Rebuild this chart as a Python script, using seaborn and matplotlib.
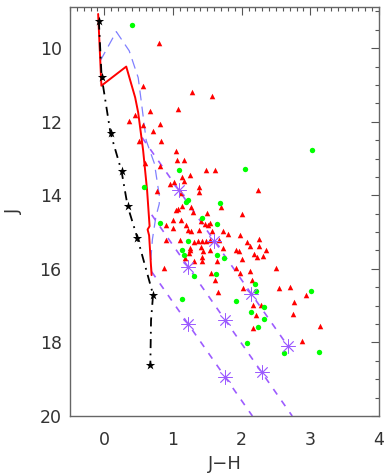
import numpy as np
import pandas as pd
import matplotlib
matplotlib.use("Agg")
import matplotlib.pyplot as plt
from matplotlib.ticker import MultipleLocator
import seaborn as sns

# ---------------- data ----------------
red_jh = [0.80, 0.565, 1.28, 1.565, 1.077, 0.659, 0.449, 0.352, 0.812, 0.565,
          0.714, 0.512, 0.826, 1.043, 1.051, 1.164, 0.594, 0.816, 1.478, 1.616,
          1.126, 1.242, 1.164, 0.952, 1.019, 1.381, 2.232, 0.768, 1.116, 1.381,
          1.068, 1.043, 1.126, 1.261, 1.290, 1.488, 1.706, 2.004, 1.541, 1.464,
          0.996, 1.116, 1.401, 0.899, 1.000, 1.188, 1.213, 1.261, 1.381, 1.512,
          1.575, 1.725, 1.807, 1.981, 0.894, 1.106, 1.309, 1.362, 1.420, 1.478,
          1.536, 1.671, 2.077, 2.246, 2.120, 2.246, 1.242, 1.251, 1.406, 1.435,
          1.541, 1.735, 1.920, 1.957, 2.348, 2.178, 2.228, 2.314, 2.010, 1.232,
          1.416, 1.178, 1.309, 1.416, 1.638, 0.874, 1.551, 1.609, 1.917, 1.971,
          2.116, 2.503, 2.025, 1.657, 2.145, 2.543, 2.700, 2.942, 2.758, 2.159,
          2.278, 2.213, 2.754, 3.138, 2.171, 2.881]
red_j = [9.87, 11.04, 11.18, 11.30, 11.65, 11.72, 11.81, 11.97, 12.05, 12.10,
         12.26, 12.53, 12.52, 12.80, 13.04, 13.03, 13.13, 13.19, 13.30, 13.30,
         13.51, 13.46, 13.60, 13.69, 13.64, 13.78, 13.85, 13.89, 13.94, 13.91,
         14.38, 14.41, 14.28, 14.32, 14.46, 14.48, 14.31, 14.52, 14.75, 14.77,
         14.68, 14.68, 14.70, 14.80, 14.90, 14.82, 14.95, 14.98, 14.95, 14.82,
         14.98, 14.97, 15.04, 15.09, 15.22, 15.22, 15.27, 15.25, 15.25, 15.25,
         15.22, 15.22, 15.27, 15.20, 15.38, 15.37, 15.42, 15.50, 15.41, 15.51,
         15.48, 15.42, 15.48, 15.52, 15.50, 15.60, 15.69, 15.64, 15.74, 15.57,
         15.68, 15.70, 15.79, 15.79, 15.79, 15.98, 16.11, 16.29, 15.98, 16.10,
         16.06, 15.97, 16.53, 16.62, 16.31, 16.53, 16.50, 16.72, 16.91, 16.99,
         16.99, 17.26, 17.22, 17.54, 17.62, 17.95]

green_jh = [0.41, 3.019, 2.048, 1.091, 0.580, 1.225, 1.196, 1.686, 1.428, 0.816,
            1.638, 1.213, 1.126, 1.167, 1.645, 1.746, 1.312, 1.623, 1.135, 1.923,
            2.188, 2.207, 3.012, 2.142, 2.323, 2.322, 2.243, 2.084, 2.613, 3.123]
green_j = [9.37, 12.76, 13.29, 13.30, 13.77, 14.13, 14.18, 14.22, 14.63, 14.74,
           14.78, 15.25, 15.50, 15.61, 15.62, 15.70, 16.19, 16.15, 16.83, 16.87,
           16.42, 16.61, 16.60, 17.17, 17.05, 17.35, 17.59, 18.01, 18.29, 18.27]

# main sequence (black dash-dot with stars)
ms_jh = [-0.08, -0.04, 0.09, 0.25, 0.34, 0.48, 0.71, 0.68, 0.67]
ms_j = [9.25, 10.77, 12.31, 13.34, 14.30, 15.15, 16.70, 17.40, 18.62]
ms_star_jh = [-0.08, -0.04, 0.09, 0.25, 0.34, 0.48, 0.71, 0.67]
ms_star_j = [9.25, 10.77, 12.31, 13.34, 14.30, 15.15, 16.70, 18.62]

# red isochrone
iso_jh = [-0.09, -0.043, 0.319, 0.449, 0.493, 0.565, 0.623, 0.659, 0.630, 0.652, 0.688]
iso_j = [9.07, 11.02, 10.50, 11.34, 11.75, 12.78, 13.87, 14.84, 14.93, 15.09, 16.17]

# blue dashed track
blue_jh = [-0.058, 0.174, 0.362, 0.493, 0.536, 0.61, 0.73, 0.80, 0.80, 0.75, 0.70, 0.68, 0.69]
blue_j = [10.34, 9.55, 10.07, 10.80, 11.42, 12.51, 13.14, 14.00, 14.23, 14.59, 15.20, 15.68, 16.13]

# reddening vectors (start, end) and Av markers
vecA_jh = [0.55, 2.673]
vecA_j = [12.43, 18.10]
vecA_star_jh = [1.083, 1.59, 2.138, 2.671]
vecA_star_j = [13.85, 15.24, 16.68, 18.10]
vecB_jh = [0.69, 2.736]
vecB_j = [14.53, 20.0]
vecB_star_jh = [1.222, 1.754, 2.290]
vecB_star_j = [15.95, 17.38, 18.81]
vecC_jh = [0.69, 2.156]
vecC_j = [16.08, 20.0]
vecC_star_jh = [1.222, 1.754]
vecC_star_j = [17.50, 18.93]

x_ticks = [0, 1, 2, 3, 4]
y_ticks = [10, 12, 14, 16, 18, 20]

# ---------------- plotting ----------------
sns.set_style("white")
plt.rcParams['font.family'] = ['DejaVu Sans']

fig = plt.figure(figsize=(3.88, 4.75), dpi=100)
ax = fig.add_axes([70 / 388, 59 / 475, 309 / 388, 409 / 475])

purple = "#9d5cff"
blue = "#8080ff"

# lines
sns.lineplot(x=blue_jh, y=blue_j, sort=False, estimator=None, ax=ax,
             color=blue, lw=0.9, linestyle=(0, (8, 5)), zorder=2)
for vx, vy in [(vecA_jh, vecA_j), (vecB_jh, vecB_j), (vecC_jh, vecC_j)]:
    sns.lineplot(x=vx, y=vy, sort=False, estimator=None, ax=ax,
                 color=purple, lw=1.2, linestyle=(0, (4, 4.5)), zorder=2)
sns.lineplot(x=iso_jh, y=iso_j, sort=False, estimator=None, ax=ax,
             color="red", lw=1.4, zorder=3)
sns.lineplot(x=ms_jh, y=ms_j, sort=False, estimator=None, ax=ax,
             color="black", lw=1.3, linestyle=(0, (5, 3, 1, 3)), zorder=3)

# points
sns.scatterplot(x=red_jh, y=red_j, ax=ax, marker="^", color="red", s=16,
                linewidth=0, zorder=4)
sns.scatterplot(x=green_jh, y=green_j, ax=ax, marker="o", color="#00ff00", s=15,
                linewidth=0, zorder=4)
sns.scatterplot(x=ms_star_jh, y=ms_star_j, ax=ax, marker="*", color="black", s=50,
                linewidth=0, zorder=5)
for sx, sy in [(vecA_star_jh, vecA_star_j), (vecB_star_jh, vecB_star_j),
               (vecC_star_jh, vecC_star_j)]:
    sns.scatterplot(x=sx, y=sy, ax=ax, marker=(8, 2, 0), color=purple,
                    edgecolor=purple, s=95, linewidth=0.6, zorder=5)

# axes
ax.set_xlim(-0.5, 4)
ax.set_ylim(20, 8.88)
ax.set_xticks(x_ticks)
ax.set_yticks(y_ticks)
ax.xaxis.set_minor_locator(MultipleLocator(0.1))
ax.yaxis.set_minor_locator(MultipleLocator(0.5))
ax.tick_params(which="both", direction="in", top=True, right=True,
               color="#555555", width=0.8)
ax.tick_params(which="major", length=6)
ax.tick_params(which="minor", length=3)
ax.tick_params(axis="x", which="major", pad=11, labelsize=12.5, labelcolor="#333333")
ax.tick_params(axis="y", which="major", pad=6, labelsize=12.5, labelcolor="#333333")
for sp in ax.spines.values():
    sp.set_color("#666666")
    sp.set_linewidth(1.0)
ax.set_xlabel("J\u2212H", fontsize=13, color="#333333", labelpad=4)
ax.set_ylabel("J", fontsize=13, color="#333333", labelpad=12)

fig.savefig("out.png", dpi=100)
